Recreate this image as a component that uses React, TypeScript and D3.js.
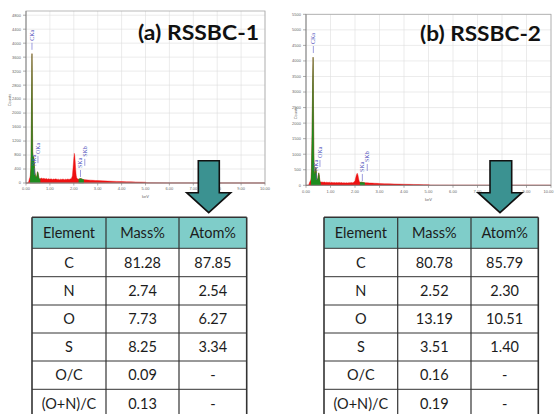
import React from "react";
import * as d3 from "d3";

// ---------- data ----------
const keVTicks = [0, 1, 2, 3, 4, 5, 6, 7, 8, 9, 10];
const countTicksA = [0, 400, 800, 1200, 1600, 2000, 2400, 2800, 3200, 3600, 4000, 4400, 4800];
const countTicksB = [0, 500, 1000, 1500, 2000, 2500, 3000, 3500, 4000, 4500, 5000, 5500];

const spectrumA: [number, number][] = [
  [0, 0], [0.08, 0], [0.1, 20], [0.12, 60], [0.14, 120], [0.16, 150], [0.18, 220], [0.2, 400],
  [0.22, 1300], [0.23, 2300], [0.24, 2950], [0.25, 3700], [0.26, 3000], [0.27, 1800], [0.28, 900],
  [0.3, 700], [0.32, 760], [0.34, 620], [0.36, 420], [0.38, 280], [0.4, 200], [0.42, 160], [0.44, 170],
  [0.46, 230], [0.48, 320], [0.5, 310], [0.52, 220], [0.54, 150], [0.56, 120], [0.58, 110], [0.6, 125],
  [0.65, 140], [0.7, 120], [0.75, 135], [0.8, 115], [0.85, 130], [0.9, 110], [0.95, 125], [1.0, 105],
  [1.05, 120], [1.1, 100], [1.15, 115], [1.2, 105], [1.25, 120], [1.3, 100], [1.35, 110], [1.4, 95],
  [1.45, 110], [1.5, 100], [1.55, 115], [1.6, 95], [1.65, 110], [1.7, 100], [1.75, 115], [1.8, 100],
  [1.85, 115], [1.9, 130], [1.94, 200], [1.97, 450], [2.0, 700], [2.02, 850], [2.04, 780], [2.06, 600],
  [2.08, 380], [2.1, 220], [2.12, 150], [2.15, 120], [2.2, 110], [2.25, 125], [2.3, 130], [2.35, 110],
  [2.4, 100], [2.5, 92], [2.6, 85], [2.7, 82], [2.8, 76], [2.9, 72], [3.0, 68], [3.2, 62], [3.4, 56],
  [3.6, 50], [3.8, 46], [4.0, 42], [4.2, 36], [4.4, 33], [4.6, 29], [4.8, 26], [5.0, 22], [5.04, 10],
  [5.1, 4], [6, 3], [8, 2], [10, 1],
];
const greenRangesA: [number, number][] = [[0.17, 0.6], [2.2, 2.42]];
const peakLabelsA = [
  { name: "CKa", keV: 0.25, counts: 3810 },
  { name: "NKa", keV: 0.35, counts: 230 },
  { name: "OKa", keV: 0.5, counts: 570 },
  { name: "SKa", keV: 2.28, counts: 172 },
  { name: "SKb", keV: 2.46, counts: 490 },
];

const spectrumB: [number, number][] = [
  [0, 0], [0.1, 0], [0.12, 30], [0.14, 80], [0.16, 120], [0.18, 130], [0.2, 200], [0.22, 450],
  [0.24, 1350], [0.26, 2500], [0.27, 3250], [0.28, 3700], [0.29, 4120], [0.3, 3300], [0.31, 2100],
  [0.32, 1000], [0.34, 450], [0.36, 350], [0.38, 420], [0.4, 580], [0.42, 450], [0.44, 250], [0.46, 170],
  [0.48, 200], [0.5, 300], [0.52, 400], [0.54, 330], [0.56, 180], [0.58, 110], [0.6, 100], [0.65, 110],
  [0.7, 95], [0.75, 105], [0.8, 90], [0.85, 100], [0.9, 88], [0.95, 98], [1.0, 85], [1.05, 95], [1.1, 82],
  [1.15, 92], [1.2, 80], [1.25, 90], [1.3, 82], [1.35, 92], [1.4, 80], [1.45, 88], [1.5, 78], [1.55, 86],
  [1.6, 76], [1.65, 84], [1.7, 78], [1.75, 86], [1.8, 80], [1.85, 88], [1.9, 82], [1.95, 95], [2.0, 150],
  [2.03, 250], [2.06, 340], [2.09, 390], [2.12, 330], [2.15, 200], [2.18, 110], [2.22, 95], [2.28, 100],
  [2.34, 90], [2.4, 85], [2.5, 80], [2.6, 74], [2.7, 70], [2.8, 66], [2.9, 62], [3.0, 58], [3.2, 52],
  [3.4, 47], [3.6, 43], [3.8, 38], [4.0, 34], [4.2, 30], [4.4, 27], [4.6, 24], [4.8, 20], [5.0, 17],
  [5.06, 8], [5.1, 3], [6, 2], [8, 2], [10, 1],
];
const greenRangesB: [number, number][] = [[0.2, 0.6], [2.2, 2.4]];
const peakLabelsB = [
  { name: "CKa", keV: 0.3, counts: 4255 },
  { name: "NKa", keV: 0.42, counts: 170 },
  { name: "OKa", keV: 0.57, counts: 590 },
  { name: "SKa", keV: 2.3, counts: 140 },
  { name: "SKb", keV: 2.5, counts: 460 },
];

const tableHeaders = ["Element", "Mass%", "Atom%"];
const elements = ["C", "N", "O", "S", "O/C", "(O+N)/C"];
const massA = [81.28, 2.74, 7.73, 8.25, 0.09, 0.13];
const atomA: (number | null)[] = [87.85, 2.54, 6.27, 3.34, null, null];
const massB = [80.78, 2.52, 13.19, 3.51, 0.16, 0.19];
const atomB: (number | null)[] = [85.79, 2.3, 10.51, 1.4, null, null];

const titles = ["(a) RSSBC-1", "(b) RSSBC-2"];

// ---------- components ----------
type PanelProps = {
  id: string;
  left: number; right: number; top: number; bottom: number;
  yMax: number; yTicks: number[];
  spectrum: [number, number][];
  green: [number, number][];
  labels: { name: string; keV: number; counts: number }[];
  title: string; titleX: number; titleY: number;
  countsX: number; countsY: number; kevY: number; tickLabelY: number;
};

function Spectrum(p: PanelProps) {
  const x = d3.scaleLinear().domain([0, 10]).range([p.left, p.right]);
  const y = d3.scaleLinear().domain([0, p.yMax]).range([p.bottom, p.top]);
  const area = d3
    .area<[number, number]>()
    .x((d) => x(d[0]))
    .y0(y(0))
    .y1((d) => y(d[1]));
  const path = area(p.spectrum) || "";
  const tickFont = { fontFamily: "Liberation Sans, Arial, sans-serif", fontSize: 4, fill: "#666" };
  return (
    <g>
      <defs>
        <clipPath id={`green-${p.id}`}>
          {p.green.map((r, i) => (
            <rect key={i} x={x(r[0])} y={p.top} width={x(r[1]) - x(r[0])} height={p.bottom - p.top + 1} />
          ))}
        </clipPath>
      </defs>
      <rect x={p.left} y={p.top} width={p.right - p.left} height={p.bottom - p.top} fill="#fff" />
      {keVTicks.map((t) => (
        <line key={"vx" + t} x1={x(t)} x2={x(t)} y1={p.top} y2={p.bottom} stroke="#dedede" strokeWidth={0.6} />
      ))}
      {p.yTicks.map((t) => (
        <line key={"hy" + t} x1={p.left} x2={p.right} y1={y(t)} y2={y(t)} stroke="#dedede" strokeWidth={0.6} />
      ))}
      <path d={path} fill="#ee1111" stroke="#ee1111" strokeWidth={0.4} />
      <path d={path} fill="#1e8c1e" stroke="#1e8c1e" strokeWidth={0.4} clipPath={`url(#green-${p.id})`} />
      <rect x={p.left} y={p.top} width={p.right - p.left} height={p.bottom - p.top} fill="none" stroke="#a8a8a8" strokeWidth={0.8} />
      <line x1={p.left} x2={p.right} y1={p.bottom} y2={p.bottom} stroke="#777" strokeWidth={0.7} />
      <line x1={p.left} x2={p.left} y1={p.top} y2={p.bottom} stroke="#777" strokeWidth={0.7} />
      {p.yTicks.map((t) => (
        <g key={"ty" + t}>
          <line x1={p.left - 3} x2={p.left} y1={y(t)} y2={y(t)} stroke="#777" strokeWidth={0.6} />
          <text x={p.left - 5} y={y(t) + 1.4} textAnchor="end" {...tickFont}>{t}</text>
        </g>
      ))}
      {keVTicks.map((t) => {
        const tx = x(t);
        const overflow = tx + 6 > 554;
        return (
          <g key={"tx" + t}>
            <line x1={tx} x2={tx} y1={p.bottom} y2={p.bottom + 2.5} stroke="#777" strokeWidth={0.6} />
            <text x={overflow ? 553.5 : tx} y={p.tickLabelY} textAnchor={overflow ? "end" : "middle"} {...tickFont}>{t.toFixed(2)}</text>
          </g>
        );
      })}
      <text x={(p.left + p.right) / 2} y={p.kevY} textAnchor="middle" {...tickFont}>keV</text>
      <text transform={`translate(${p.countsX},${p.countsY}) rotate(-90)`} textAnchor="middle" {...tickFont}>Counts</text>
      {p.labels.map((l) => {
        const px = x(l.keV);
        const py = y(l.counts);
        return (
          <g key={l.name}>
            <line x1={px} x2={px} y1={py} y2={py - 7} stroke="#5a5ac8" strokeWidth={0.6} />
            <text
              transform={`translate(${px + 2},${py - 9}) rotate(-90)`}
              fontFamily="Liberation Serif, Times New Roman, serif"
              fontSize={6}
              fill="#4848b8"
            >
              {l.name}
            </text>
          </g>
        );
      })}
      <text
        x={p.titleX}
        y={p.titleY}
        fontFamily="Lato, 'Open Sans', sans-serif"
        fontWeight={700}
        fontSize={21}
        fill="#111"
        textLength={121}
        lengthAdjust="spacingAndGlyphs"
      >
        {p.title}
      </text>
    </g>
  );
}

function Arrow({ shaftL, shaftR, headL, headR, top, headTop, tipY }: any) {
  const cx = (headL + headR) / 2;
  const pts = [
    [shaftL, top], [shaftR, top], [shaftR, headTop], [headR, headTop], [cx, tipY], [headL, headTop], [shaftL, headTop],
  ];
  return <polygon points={pts.map((d) => d.join(",")).join(" ")} fill="#3b9291" stroke="#111" strokeWidth={1.6} strokeLinejoin="miter" />;
}

function Table({ cols, rowsY, mass, atom }: { cols: number[]; rowsY: number[]; mass: number[]; atom: (number | null)[] }) {
  const font = { fontFamily: "Lato, 'Open Sans', sans-serif", fontSize: 14.5, fill: "#1c1c1c" };
  const cells: string[][] = elements.map((e, i) => [e, mass[i].toFixed(2), atom[i] == null ? "-" : (atom[i] as number).toFixed(2)]);
  const left = cols[0], right = cols[cols.length - 1];
  return (
    <g>
      <rect x={left} y={rowsY[0]} width={right - left} height={rowsY[1] - rowsY[0]} fill="#7fcdc9" />
      <rect x={left} y={rowsY[1]} width={right - left} height={rowsY[rowsY.length - 1] - rowsY[1]} fill="#fff" />
      {rowsY.map((ry, i) => (
        <line key={"r" + i} x1={left} x2={right} y1={ry} y2={ry} stroke="#333" strokeWidth={i === 0 ? 1.6 : 1} />
      ))}
      {cols.map((cx, i) => (
        <line key={"c" + i} x1={cx} x2={cx} y1={rowsY[0]} y2={rowsY[rowsY.length - 1]} stroke="#333" strokeWidth={i === 0 || i === cols.length - 1 ? 1.6 : 1.2} />
      ))}
      {tableHeaders.map((h, j) => (
        <text key={"h" + j} x={(cols[j] + cols[j + 1]) / 2} y={(rowsY[0] + rowsY[1]) / 2 + 5} textAnchor="middle" {...font}>{h}</text>
      ))}
      {cells.map((row, i) =>
        row.map((c, j) => (
          <text key={i + "-" + j} x={(cols[j] + cols[j + 1]) / 2} y={(rowsY[i + 1] + rowsY[i + 2]) / 2 + 5} textAnchor="middle" {...font}>{c}</text>
        ))
      )}
    </g>
  );
}

export default function App() {
  const rowsY = [217.3, 248.3, 276.7, 305, 333, 361, 389.3, 417.7];
  return (
    <svg width={554} height={414} style={{ position: "absolute", left: 0, top: 0, background: "#fff" }}>
      <rect x={0} y={0} width={554} height={414} fill="#fff" />
      <Spectrum
        id="a" left={26} right={265} top={11} bottom={183} yMax={4920} yTicks={countTicksA}
        spectrum={spectrumA} green={greenRangesA} labels={peakLabelsA}
        title={titles[0]} titleX={138} titleY={40}
        countsX={11} countsY={100} kevY={198} tickLabelY={190}
      />
      <Spectrum
        id="b" left={306} right={551} top={14.3} bottom={185.3} yMax={5500} yTicks={countTicksB}
        spectrum={spectrumB} green={greenRangesB} labels={peakLabelsB}
        title={titles[1]} titleX={420} titleY={41}
        countsX={297} countsY={113} kevY={201} tickLabelY={193}
      />
      <Table cols={[32, 106, 179, 246.7]} rowsY={rowsY} mass={massA} atom={atomA} />
      <Table cols={[324, 397.7, 471, 538.3]} rowsY={rowsY} mass={massB} atom={atomB} />
      <Arrow shaftL={198.3} shaftR={219.3} headL={186.7} headR={230.7} top={160.7} headTop={192.7} tipY={212.7} />
      <Arrow shaftL={490} shaftR={511.7} headL={478} headR={522} top={160.7} headTop={192.7} tipY={212.7} />
    </svg>
  );
}
